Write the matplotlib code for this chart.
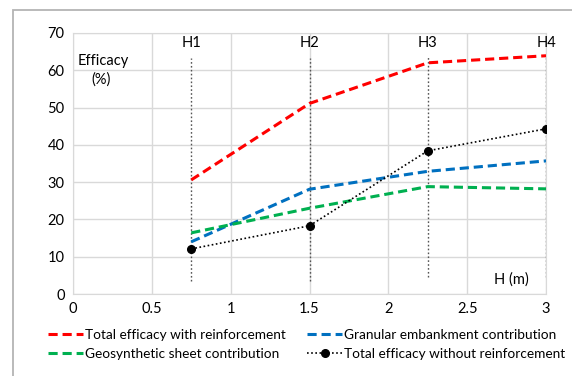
import matplotlib.pyplot as plt
from matplotlib.patches import Rectangle

plt.rcParams['font.family'] = ['Lato', 'DejaVu Sans']

heights = [0.75, 1.5, 2.25, 3.0]
h_labels = ['H1', 'H2', 'H3', 'H4']
total_reinf = [30.6, 51.1, 62.0, 63.9]
granular = [14.0, 28.1, 32.9, 35.7]
geosynthetic = [16.4, 23.0, 28.8, 28.2]
total_no_reinf = [12.1, 18.3, 38.4, 44.3]
# vertical marker extents (bottom, top) for each height
marker_bottom = [3.5, 3.5, 4.6, 4.6]
marker_top = [63.3, 63.3, 63.5, 63.9]

fig = plt.figure(figsize=(5.72, 3.76), dpi=100)
ax = fig.add_axes([73 / 572, 1 - 294 / 376, (546 - 73) / 572, (294 - 33) / 376])

# outer chart frame
fig.patches.append(Rectangle((13 / 572, -0.05), 1.1, 1 - 9.5 / 376 + 0.05,
                             transform=fig.transFigure, fill=False,
                             edgecolor='#b4b4b4', linewidth=1.3))

for x, lo, hi, lab in zip(heights, marker_bottom, marker_top, h_labels):
    ax.plot([x, x], [lo, hi], color='#555555', linestyle=(0, (1.2, 1.6)),
            linewidth=1.0, zorder=2)
    ax.text(x, 67.3, lab, ha='center', va='center', fontsize=10.5)

ax.plot(heights, total_reinf, color='#ff0000', linestyle=(0, (3, 1.6)),
        linewidth=2.2, label='Total efficacy with reinforcement', zorder=3)
ax.plot(heights, granular, color='#0070c0', linestyle=(0, (3, 1.6)),
        linewidth=2.2, label='Granular embankment contribution', zorder=3)
ax.plot(heights, geosynthetic, color='#00b050', linestyle=(0, (3, 1.6)),
        linewidth=2.2, label='Geosynthetic sheet contribution', zorder=3)
ax.plot(heights, total_no_reinf, color='black', linestyle=(0, (1, 1.5)),
        linewidth=1.2, marker='o', markersize=5.5,
        label='Total efficacy without reinforcement', zorder=4)

ax.text(0.03, 62.4, 'Efficacy', ha='left', va='center', fontsize=10.5)
ax.text(0.18, 57.4, '(%)', ha='center', va='center', fontsize=10.5)
ax.text(2.78, 3.9, 'H (m)', ha='center', va='center', fontsize=10.5)

ax.set_xlim(0, 3)
ax.set_ylim(0, 70)
ax.set_xticks([0, 0.5, 1, 1.5, 2, 2.5, 3])
ax.set_xticklabels(['0', '0.5', '1', '1.5', '2', '2.5', '3'])
ax.set_yticks(range(0, 71, 10))
ax.grid(True, color='#d9d9d9', linewidth=1.0)
ax.set_axisbelow(True)
for s in ax.spines.values():
    s.set_color('#d9d9d9')
ax.tick_params(length=0, labelsize=10.5, pad=6)

handles, labels = ax.get_legend_handles_labels()
legend_style = dict(loc='upper left', frameon=False, fontsize=9.8,
                    handlelength=2.6, handletextpad=0.12, labelspacing=0.5,
                    borderaxespad=0, borderpad=0)
fig.legend([handles[0], handles[2]], [labels[0], labels[2]],
           bbox_to_anchor=(48 / 572, 1 - 329 / 376), **legend_style)
fig.legend([handles[1], handles[3]], [labels[1], labels[3]],
           bbox_to_anchor=(307 / 572, 1 - 329 / 376), **legend_style)

fig.savefig('out.png', dpi=100)
